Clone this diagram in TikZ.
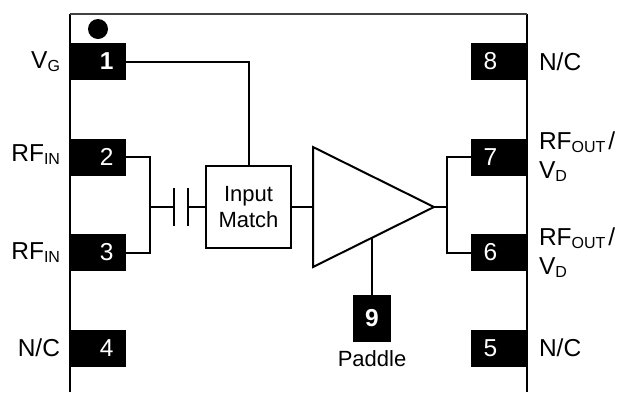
\documentclass[tikz,border=0pt]{standalone}
\usepackage{fontspec}
\setmainfont{Liberation Sans}
\usetikzlibrary{positioning,calc,shapes.geometric}
\newcommand{\lowtext}[1]{\raisebox{-3pt}{\fontsize{16}{16}\selectfont #1}}
\begin{document}
\begin{tikzpicture}[x=1pt, y=-1pt, line width=2pt, node distance=95.5pt]
\tikzstyle{every node}=[font=\fontsize{24.5}{29}\selectfont, text=black, outer sep=0pt]
\tikzstyle{pinleft}=[fill=black, text=white, minimum height=37pt, text width=31pt, inner xsep=12.5pt, inner ysep=0pt, align=right]
\tikzstyle{pinright}=[fill=black, text=white, minimum height=37pt, text width=31pt, inner xsep=12.5pt, inner ysep=0pt, align=left]
\tikzstyle{pinlabel}=[inner sep=0pt, align=left]
\useasboundingbox (0,0) rectangle (618,392);
\coordinate (edgeA) at (70,392);
\coordinate (edgeB) at (70,14);
\coordinate (edgeC) at (527,14);
\coordinate (edgeD) at (527,392);
\draw[line width=1.2pt] (edgeA) -- (edgeB);
\draw[line width=1.2pt] (edgeC) -- (edgeD);
\draw[line width=1.8pt, black!75] (edgeB) -- (edgeC);
\node[circle, fill=black, minimum size=20pt, inner sep=0pt] (dot) at (98,29) {};
\node[pinleft]  (P1) at (98,61.5) {\textbf{1}};
\node[pinleft]  (P2)[below of=P1] {2};
\node[pinleft]  (P3)[below of=P2] {3};
\node[pinleft]  (P4)[below of=P3] {4};
\node[pinright] (P8) at (499,61.5) {8};
\node[pinright] (P7)[below of=P8] {7};
\node[pinright] (P6)[below of=P7] {6};
\node[pinright] (P5)[below of=P6] {5};
\node[fill=black, text=white, minimum width=38pt, minimum height=47pt, inner sep=0pt] (P9) at (372,318.5) {\textbf{9}};
\node[pinlabel] (LG)[left=10pt of P1] {V\lowtext{G}};
\node[pinlabel] (LI)[left=10pt of P2, yshift=2pt] {RF\lowtext{IN}};
\node[pinlabel] (LJ)[left=10pt of P3] {RF\lowtext{IN}};
\node[pinlabel] (LK)[left=10pt of P4] {N/C};
\node[pinlabel] (LN)[right=12pt of P8] {N/C};
\node[pinlabel] (LO)[right=12pt of P7] {RF\lowtext{OUT}\hspace{3pt}/\\V\lowtext{D}};
\node[pinlabel] (LQ)[right=12pt of P6] {RF\lowtext{OUT}\hspace{3pt}/\\V\lowtext{D}};
\node[pinlabel] (LM)[right=12pt of P5] {N/C};
\node[inner sep=0pt, font=\fontsize{22}{26}\selectfont] (LP)[below=9pt of P9] {Paddle};
\node[draw, minimum width=85pt, minimum height=82pt, inner sep=0pt, align=center, font=\fontsize{22}{26}\selectfont] (match) at (248.5,207) {Input\\Match};
\node[draw, isosceles triangle, isosceles triangle stretches, minimum height=121pt, minimum width=120pt, inner sep=0pt, anchor=lower side] (amp) at (313,207) {};
\coordinate (join) at (149.5,207);
\coordinate (capA) at (174,207);
\coordinate (capB) at (188,207);
\coordinate (capAt) at (174,188);
\coordinate (capAb) at (174,226);
\coordinate (capBt) at (188,188);
\coordinate (capBb) at (188,226);
\coordinate (out) at (446.5,207);
\coordinate (ampmid) at ($(amp.apex)!0.5!(amp.right corner)$);
\draw (P1.east) -| (match.north);
\draw (P2.east) -| (join);
\draw (P3.east) -| (join);
\draw (join) -- (capA);
\draw (capAt) -- (capAb);
\draw (capBt) -- (capBb);
\draw (capB) -- (match.west);
\draw (match.east) -- (amp.lower side);
\draw (amp.apex) -- (out);
\draw (P7.west) -| (out);
\draw (P6.west) -| (out);
\draw (P9.north) -- (P9.north |- ampmid);
\end{tikzpicture}
\end{document}
